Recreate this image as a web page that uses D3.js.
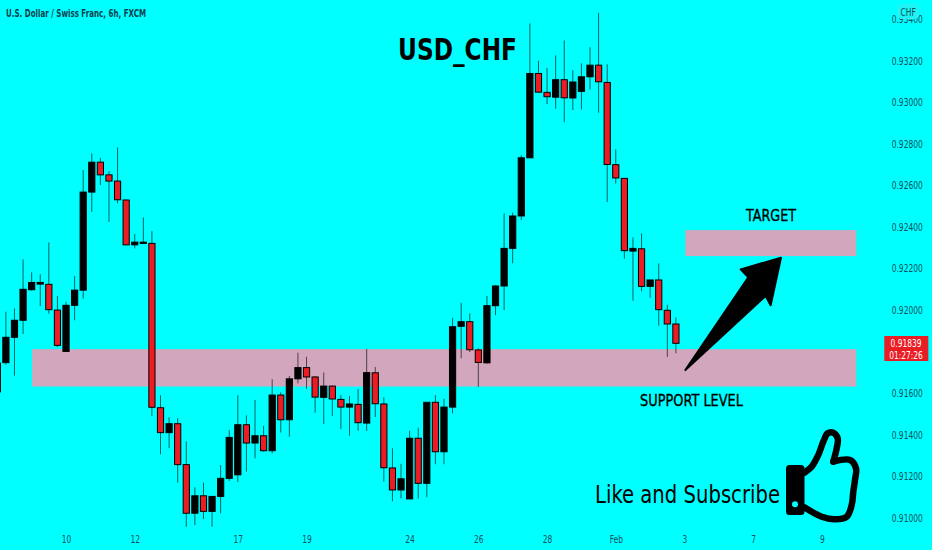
<!DOCTYPE html>
<html>
<head>
<meta charset="utf-8">
<script src="https://cdnjs.cloudflare.com/ajax/libs/d3/7.8.5/d3.min.js"></script>
<style>
	html, body { margin: 0; padding: 0; background: #00ffff; overflow: hidden; }
	svg { display: block; }
	.axis text { font-family: "DejaVu Sans Condensed", "DejaVu Sans", sans-serif; font-size: 11px; fill: #0e4f5c; }
	.axis path, .axis line { display: none; }
	.note { font-family: "DejaVu Sans Condensed", "DejaVu Sans", sans-serif; fill: #000000; }
</style>
</head>
<body>
<script>
//candles, oldest first. the first one is cut off by the left edge
var opens = [0.91605,0.91746,0.91868,0.91950,0.92097,0.92124,0.92123,0.91999,0.91800,0.92022,0.92095,0.92567,0.92711,0.92650,0.92620,0.92529,0.92313,0.92320,0.92320,0.91529,0.91409,0.91452,0.91255,0.91021,0.91105,0.91030,0.91102,0.91189,0.91206,0.91447,0.91359,0.91394,0.91322,0.91590,0.91471,0.91668,0.91722,0.91677,0.91579,0.91633,0.91569,0.91532,0.91545,0.91455,0.91697,0.91547,0.91239,0.91133,0.91090,0.91382,0.91165,0.91555,0.91317,0.91532,0.91921,0.91943,0.91807,0.91745,0.92020,0.92115,0.92296,0.92452,0.92732,0.93138,0.93047,0.93024,0.93108,0.93020,0.93052,0.93122,0.93178,0.93095,0.92699,0.92633,0.92283,0.92294,0.92113,0.92144,0.91998,0.91932];
var highs = [0.91783,0.91991,0.92007,0.92243,0.92181,0.92171,0.92325,0.92067,0.92039,0.92163,0.92673,0.92753,0.92732,0.92667,0.92782,0.92530,0.92365,0.92445,0.92379,0.91589,0.91483,0.91479,0.91367,0.91146,0.91168,0.91104,0.91253,0.91422,0.91589,0.91492,0.91566,0.91442,0.91666,0.91603,0.91682,0.91794,0.91774,0.91682,0.91699,0.91637,0.91590,0.91585,0.91619,0.91812,0.91725,0.91579,0.91334,0.91259,0.91418,0.91433,0.91556,0.91589,0.91572,0.91962,0.92034,0.91983,0.91815,0.92067,0.92120,0.92465,0.92468,0.92745,0.93379,0.93199,0.93165,0.93225,0.93297,0.93154,0.93187,0.93264,0.93430,0.93182,0.92773,0.92635,0.92349,0.92368,0.92144,0.92224,0.92025,0.91964];
var lows = [0.91590,0.91735,0.91683,0.91884,0.92092,0.92018,0.91981,0.91821,0.91800,0.91950,0.92054,0.92472,0.92601,0.92424,0.92513,0.92312,0.92296,0.92317,0.91489,0.91305,0.91334,0.91168,0.90956,0.90964,0.90993,0.90956,0.91021,0.91176,0.91171,0.91221,0.91285,0.91317,0.91309,0.91409,0.91389,0.91646,0.91619,0.91505,0.91451,0.91489,0.91426,0.91394,0.91418,0.91417,0.91484,0.91173,0.91079,0.91093,0.91090,0.91091,0.91098,0.91257,0.91257,0.91502,0.91767,0.91797,0.91629,0.91741,0.91975,0.91999,0.92224,0.92432,0.92732,0.93046,0.92991,0.92968,0.92903,0.92962,0.92965,0.93061,0.92949,0.92519,0.92608,0.92246,0.92044,0.92089,0.92058,0.91924,0.91773,0.91791];
var closes = [0.91744,0.91868,0.91950,0.92099,0.92132,0.92132,0.92001,0.91829,0.92022,0.92095,0.92567,0.92711,0.92650,0.92620,0.92530,0.92313,0.92326,0.92326,0.91531,0.91409,0.91452,0.91255,0.91021,0.91105,0.91030,0.91102,0.91189,0.91386,0.91447,0.91359,0.91394,0.91322,0.91590,0.91471,0.91668,0.91722,0.91677,0.91580,0.91633,0.91571,0.91532,0.91547,0.91457,0.91698,0.91548,0.91240,0.91133,0.91187,0.91382,0.91165,0.91555,0.91317,0.91532,0.91919,0.91943,0.91808,0.91747,0.92020,0.92115,0.92296,0.92452,0.92732,0.93138,0.93048,0.93026,0.93108,0.93021,0.93097,0.93122,0.93178,0.93098,0.92700,0.92635,0.92285,0.92296,0.92113,0.92144,0.92001,0.91932,0.91839];

//axis ticks. 0.918 sits behind the last price tag so it is left out
var priceTicks = [0.910,0.912,0.914,0.916,0.920,0.922,0.924,0.926,0.928,0.930,0.932,0.934];
var dateTicks = [8,16,28,36,48,56,64,72,80,88,96]; //bar numbers
var dateLabels = ["10","12","17","19","24","26","28","Feb","3","7","9"];

//drawings on the chart, [bar, price]
var supportZone = [[4.05,0.91811],[100,0.91631]];
var targetZone = [[80.1,0.92384],[100,0.92259]];
var arrowPoints = [[80.1,0.91710],[87.43,0.92157],[86.54,0.92195],[91.23,0.92251],[90.03,0.92022],[89.45,0.92067]];

//wrap everything so nothing is in global scope
(function () {
	var width = 932,
		height = 550;

	var svg = d3.select("body")
		.append("svg")
		.attr("width", width)
		.attr("height", height);

	var x = d3.scaleLinear().domain([0, 100]).range([-2.7, 856.3]);
	var y = d3.scaleLinear().domain([0.910, 0.932]).range([517.6, 60.6]);

	setZones();
	setCandles();
	setAxes();
	setNotes();
	setThumb();

	//the reference font runs narrower than anything installed, so pinch the glyphs
	function squeeze(selection, k) {
		selection.each(function () {
			this.setAttribute("textLength", this.getComputedTextLength() * k);
			this.setAttribute("lengthAdjust", "spacingAndGlyphs");
		});
	}

	function setZones() {
		svg.selectAll(".zone")
			.data([supportZone, targetZone])
			.enter()
			.append("rect")
			.attr("class", "zone")
			.attr("x", function (d) { return x(d[0][0]); })
			.attr("y", function (d) { return y(d[0][1]); })
			.attr("width", function (d) { return x(d[1][0]) - x(d[0][0]); })
			.attr("height", function (d) { return y(d[1][1]) - y(d[0][1]); })
			.style("fill", "#d2a6bd");
	}

	function setCandles() {
		var bars = d3.range(opens.length);

		//wicks first so the bodies sit on top
		svg.selectAll(".wick")
			.data(bars)
			.enter()
			.append("line")
			.attr("class", "wick")
			.attr("x1", function (i) { return x(i); })
			.attr("x2", function (i) { return x(i); })
			.attr("y1", function (i) { return y(highs[i]); })
			.attr("y2", function (i) { return y(lows[i]); })
			.style("stroke", "#000000")
			.style("stroke-opacity", 0.62)
			.style("stroke-width", 1);

		svg.selectAll(".body")
			.data(bars)
			.enter()
			.append("rect")
			.attr("class", "body")
			.attr("x", function (i) { return x(i) - 3.1; })
			.attr("y", function (i) { return y(Math.max(opens[i], closes[i])); })
			.attr("width", 6.2)
			.attr("height", function (i) { return Math.max(0.6, Math.abs(y(opens[i]) - y(closes[i]))); })
			.style("fill", function (i) { return closes[i] > opens[i] ? "#000000" : "#ec1c24"; })
			.style("stroke", "#000000")
			.style("stroke-width", 1);
	}

	function setAxes() {
		var priceAxis = d3.axisRight(y)
			.tickValues(priceTicks)
			.tickSize(0)
			.tickFormat(d3.format(".5f"));

		svg.append("g")
			.attr("class", "axis")
			.attr("transform", "translate(891.7,0)")
			.call(priceAxis)
			.selectAll("text")
			.attr("x", 0)
			.call(squeeze, 0.76);

		var dateAxis = d3.axisBottom(x)
			.tickValues(dateTicks)
			.tickSize(0)
			.tickFormat(function (d, i) { return dateLabels[i]; });

		svg.append("g")
			.attr("class", "axis")
			.attr("transform", "translate(0,532)")
			.call(dateAxis)
			.selectAll("text")
			.call(squeeze, 0.76);

		//symbol line, top left
		svg.append("text")
			.attr("x", 6)
			.attr("y", 16.5)
			.attr("textLength", 140)
			.attr("lengthAdjust", "spacingAndGlyphs")
			.style("font-family", "'DejaVu Sans Condensed', 'DejaVu Sans', sans-serif")
			.style("font-size", "10.5px")
			.style("font-weight", "bold")
			.style("fill", "#0e3f50")
			.text("U.S. Dollar / Swiss Franc, 6h, FXCM");

		//currency badge covers the top tick
		svg.append("rect")
			.attr("x", 898.5)
			.attr("y", 5)
			.attr("width", 19.5)
			.attr("height", 13.5)
			.attr("rx", 2.5)
			.style("fill", "#19f4f4")
			.style("stroke", "#4fe6ea")
			.style("stroke-width", 0.8);

		svg.append("text")
			.attr("x", 908.2)
			.attr("y", 15.5)
			.attr("text-anchor", "middle")
			.style("font-family", "'DejaVu Sans Condensed', 'DejaVu Sans', sans-serif")
			.style("font-size", "11px")
			.style("fill", "#0e4f5c")
			.text("CHF")
			.call(squeeze, 0.76);

		//last price tag
		var last = closes[closes.length - 1];
		svg.append("rect")
			.attr("x", 884.3)
			.attr("y", y(last) - 7.3)
			.attr("width", 44)
			.attr("height", 25)
			.style("fill", "#ea1c24");

		svg.selectAll(".tag")
			.data([d3.format(".5f")(last), "01:27:26"])
			.enter()
			.append("text")
			.attr("class", "tag")
			.attr("x", 906)
			.attr("y", function (d, i) { return y(last) + 3.7 + i * 11.7; })
			.attr("text-anchor", "middle")
			.style("font-family", "'DejaVu Sans Condensed', 'DejaVu Sans', sans-serif")
			.style("font-size", "10.5px")
			.style("fill", "#ffffff")
			.text(function (d) { return d; })
			.call(squeeze, 0.79);
	}

	function setNotes() {
		var notes = [
			{ text: "USD_CHF", x: 398, y: 60, size: 30, len: 119, bold: true },
			{ text: "TARGET", x: 746, y: 221, size: 16.5, len: 50, heavy: 0.35 },
			{ text: "SUPPORT LEVEL", x: 640, y: 405.7, size: 16.5, len: 103, heavy: 0.35 },
			{ text: "Like and Subscribe", x: 595, y: 502.7, size: 25.6, len: 185 }
		];

		svg.selectAll(".note")
			.data(notes)
			.enter()
			.append("text")
			.attr("class", "note")
			.attr("x", function (d) { return d.x; })
			.attr("y", function (d) { return d.y; })
			.attr("textLength", function (d) { return d.len; })
			.attr("lengthAdjust", "spacingAndGlyphs")
			.style("font-size", function (d) { return d.size + "px"; })
			.style("font-weight", function (d) { return d.bold ? "bold" : "normal"; })
			.style("stroke", "#000000")
			.style("stroke-width", function (d) { return d.heavy || 0; })
			.text(function (d) { return d.text; });

		//arrow from support up to target
		var line = d3.line()
			.x(function (d) { return x(d[0]); })
			.y(function (d) { return y(d[1]); })
			.curve(d3.curveLinearClosed);

		svg.append("path")
			.datum(arrowPoints)
			.attr("d", line)
			.style("fill", "#000000")
			.style("stroke", "#000000")
			.style("stroke-width", 2)
			.style("stroke-linejoin", "round");
	}

	//the thumbs up drawing, plain pixel outline
	function setThumb() {
		var thumb = [[804.3,472.7],[811.7,466.7],[818.3,455],[823.3,441.7],[827.7,433.3],[833.3,432.7],[837.7,438.3],[836.7,448.3],[833.3,461.7]];
		var hand = [[833.3,461.7],[850,460],[856,468.3],[855,480],[853.3,491.7],[851.7,505],[846.7,516.7],[835,519.3],[821.7,516.7],[804.3,507.3]];

		svg.selectAll(".hand")
			.data([thumb, hand])
			.enter()
			.append("path")
			.attr("class", "hand")
			.attr("d", d3.line().curve(d3.curveCatmullRom.alpha(0.5)))
			.style("fill", "none")
			.style("stroke", "#000000")
			.style("stroke-width", 6.5)
			.style("stroke-linejoin", "round")
			.style("stroke-linecap", "round");

		svg.append("rect")
			.attr("x", 786)
			.attr("y", 465)
			.attr("width", 18.5)
			.attr("height", 50)
			.attr("rx", 3.5)
			.style("fill", "#000000");

		svg.append("circle")
			.attr("cx", 795)
			.attr("cy", 504.3)
			.attr("r", 3)
			.style("fill", "#00ffff");
	}
})();
</script>
</body>
</html>
